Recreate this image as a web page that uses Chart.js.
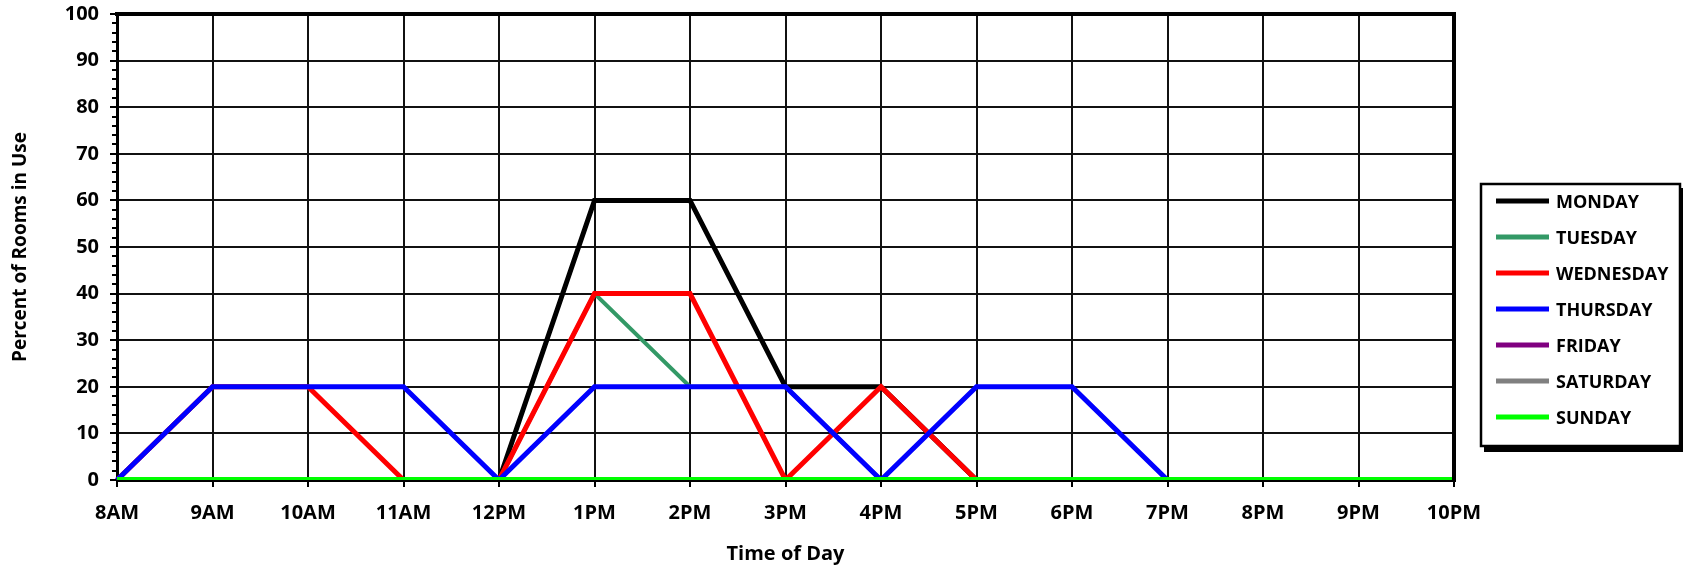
<!DOCTYPE html>
<html>
<head>
<meta charset="utf-8">
<script src="https://cdn.jsdelivr.net/npm/chart.js@4.4.0/dist/chart.umd.min.js"></script>
<style>
  html, body { margin: 0; padding: 0; background: #ffffff; }
  canvas { display: block; }
</style>
</head>
<body>
<canvas id="chart" width="1683" height="566"></canvas>
<script>
// ---- data ----
const timeLabels = ['8AM','9AM','10AM','11AM','12PM','1PM','2PM','3PM','4PM','5PM','6PM','7PM','8PM','9PM','10PM'];
const seriesNames = ['MONDAY','TUESDAY','WEDNESDAY','THURSDAY','FRIDAY','SATURDAY','SUNDAY'];
const monday    = [0, 0, 0, 0, 0, 60, 60, 20, 20, 0, 0, 0, 0, 0, 0];
const tuesday   = [0, 0, 0, 0, 0, 40, 20, 20, 0, 0, 0, 0, 0, 0, 0];
const wednesday = [0, 20, 20, 0, 0, 40, 40, 0, 20, 0, 0, 0, 0, 0, 0];
const thursday  = [0, 20, 20, 20, 0, 20, 20, 20, 0, 20, 20, 0, 0, 0, 0];
const friday    = [0, 0, 0, 0, 0, 0, 0, 0, 0, 0, 0, 0, 0, 0, 0];
const saturday  = [0, 0, 0, 0, 0, 0, 0, 0, 0, 0, 0, 0, 0, 0, 0];
const sunday    = [0, 0, 0, 0, 0, 0, 0, 0, 0, 0, 0, 0, 0, 0, 0];
const yRange = [0, 100];
const yStep = 10;
const yMinorStep = 2;
const xTitle = 'Time of Day';
const yTitle = 'Percent of Rooms in Use';

// ---- styles ----
const FONT = "'Open Sans', sans-serif";
const seriesValues = [monday, tuesday, wednesday, thursday, friday, saturday, sunday];
const seriesColors = ['#000000', '#339966', '#ff0000', '#0000ff', '#800080', '#808080', '#00ff00'];
const seriesWidths = [5, 4, 5, 5, 5, 5, 6];

const datasets = seriesNames.map((name, i) => ({
  label: name,
  data: seriesValues[i],
  borderColor: seriesColors[i],
  backgroundColor: seriesColors[i],
  borderWidth: seriesWidths[i],
  pointRadius: 0,
  pointHoverRadius: 0,
  tension: 0,
  fill: false,
  order: seriesNames.length - i
}));

const decorPlugin = {
  id: 'decor',
  afterDraw(chart) {
    const ctx = chart.ctx;
    const area = chart.chartArea;
    const y = chart.scales.y;
    ctx.save();
    // minor ticks on the value axis
    ctx.strokeStyle = '#000';
    ctx.lineWidth = 2;
    for (let v = yRange[0]; v <= yRange[1]; v += yMinorStep) {
      if (v % yStep === 0) continue;
      const py = Math.round(y.getPixelForValue(v));
      ctx.beginPath();
      ctx.moveTo(area.left - 5, py);
      ctx.lineTo(area.left, py);
      ctx.stroke();
    }
    // plot-area frame (top and right)
    ctx.lineWidth = 4;
    ctx.lineCap = 'square';
    ctx.beginPath();
    ctx.moveTo(area.left, area.top);
    ctx.lineTo(area.right, area.top);
    ctx.lineTo(area.right, area.bottom);
    ctx.stroke();

    // legend
    const lx = 1481, ly = 184, lw = 199, lh = 262;
    ctx.fillStyle = '#000';
    ctx.fillRect(lx + 3, ly + 4, lw, lh + 2);
    ctx.fillStyle = '#fff';
    ctx.fillRect(lx, ly, lw, lh);
    ctx.lineWidth = 2.5;
    ctx.lineCap = 'butt';
    ctx.strokeStyle = '#000';
    ctx.strokeRect(lx, ly, lw, lh);
    ctx.font = "bold 18px " + FONT;
    ctx.textBaseline = 'middle';
    ctx.textAlign = 'left';
    chart.data.datasets.forEach((ds, i) => {
      const cy = 201 + i * 36;
      ctx.strokeStyle = ds.borderColor;
      ctx.lineWidth = 5;
      ctx.beginPath();
      ctx.moveTo(1496, cy);
      ctx.lineTo(1549, cy);
      ctx.stroke();
      ctx.fillStyle = '#000';
      ctx.fillText(ds.label, 1556, cy + 2);
    });
    ctx.restore();
  }
};

new Chart(document.getElementById('chart'), {
  type: 'line',
  data: { labels: timeLabels, datasets },
  options: {
    responsive: false,
    animation: false,
    devicePixelRatio: 1,
    layout: { padding: { top: 14, right: 229, left: 0, bottom: 0 } },
    plugins: {
      legend: { display: false },
      tooltip: { enabled: false }
    },
    scales: {
      x: {
        type: 'category',
        offset: false,
        grid: { color: '#111', lineWidth: 2, tickLength: 7, drawTicks: true, tickColor: '#000', tickWidth: 2 },
        border: { display: true, color: '#000', width: 3 },
        ticks: { color: '#000', font: { family: FONT, size: 20, weight: 'bold' }, padding: 14, autoSkip: false, maxRotation: 0 },
        title: { display: true, text: xTitle, color: '#000', font: { family: FONT, size: 20, weight: 'bold' }, padding: { top: 0, bottom: 0 } },
        afterFit(scale) { scale.height = 86; }
      },
      y: {
        min: yRange[0],
        max: yRange[1],
        grid: { color: '#111', lineWidth: 2, tickLength: 7, tickColor: '#000', tickWidth: 2 },
        border: { display: true, color: '#000', width: 3 },
        ticks: { stepSize: yStep, color: '#000', font: { family: FONT, size: 20, weight: 'bold' }, padding: 11 },
        title: { display: true, text: yTitle, color: '#000', font: { family: FONT, size: 19, weight: 'bold' }, padding: { top: 9, bottom: 0 } },
        afterFit(scale) { scale.width = 117; scale.paddingTop = 0; scale.paddingBottom = 0; }
      }
    }
  },
  plugins: [decorPlugin]
});
</script>
</body>
</html>
